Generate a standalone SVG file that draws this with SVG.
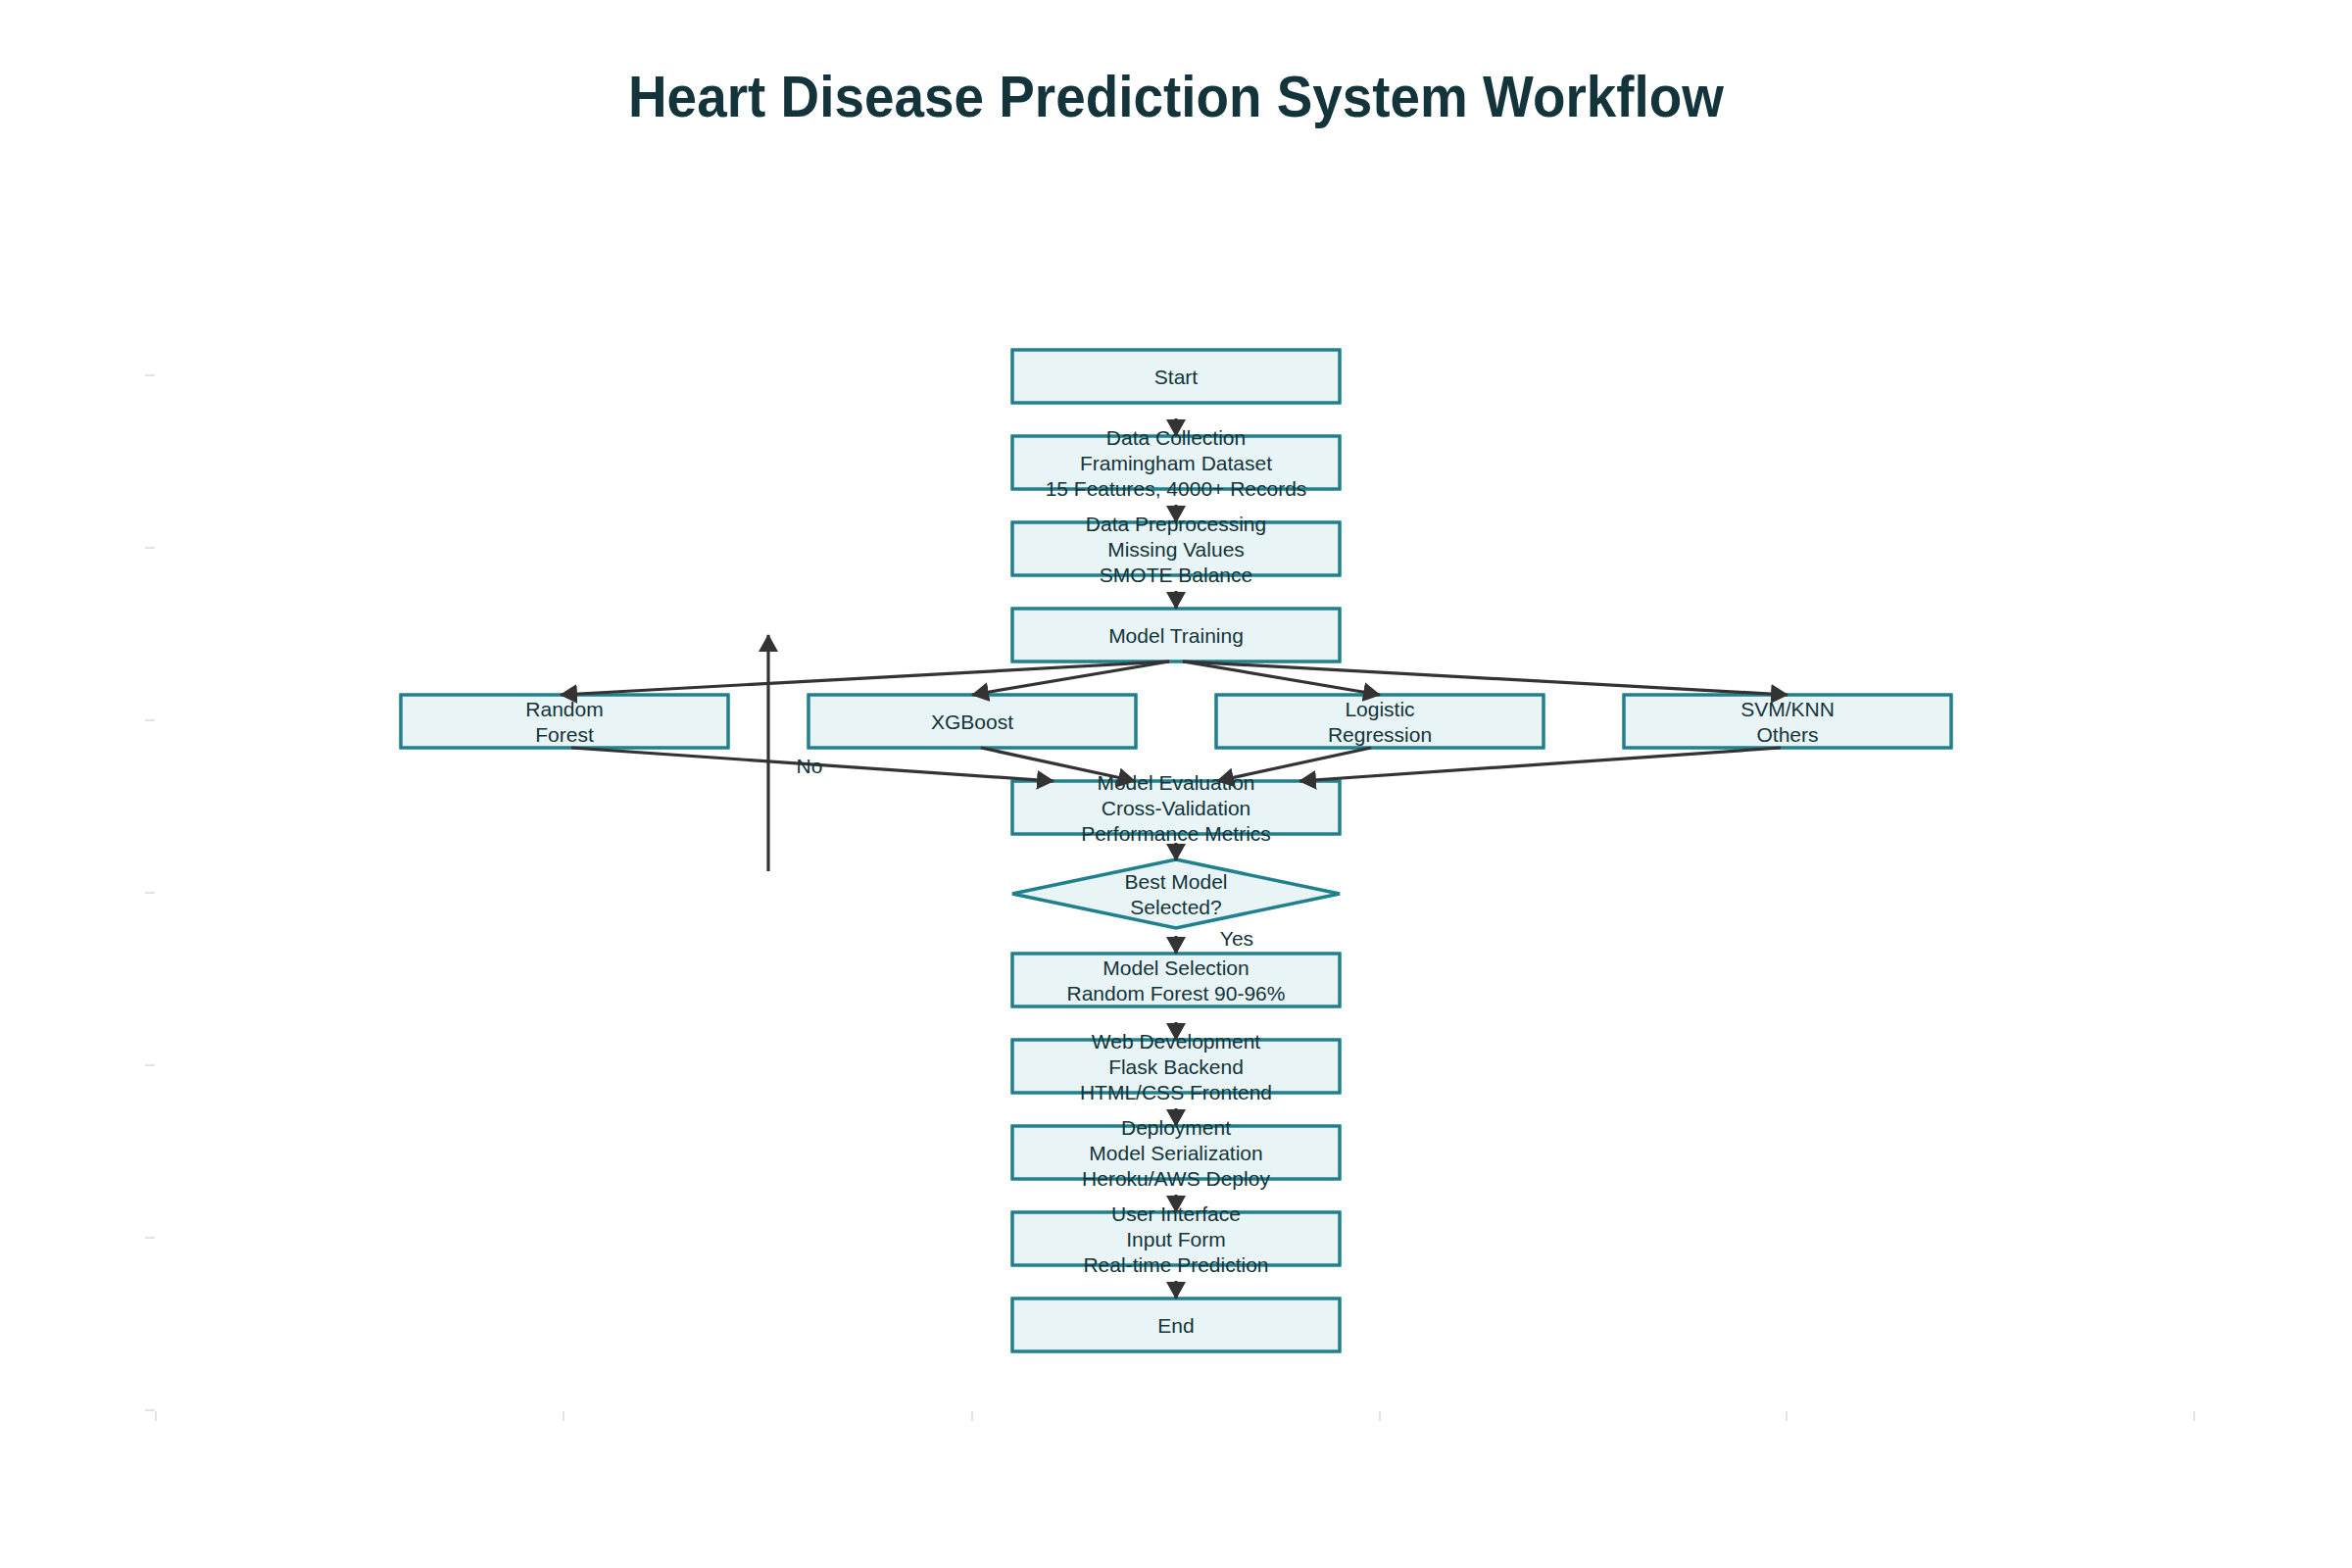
<svg xmlns="http://www.w3.org/2000/svg" width="2400" height="1600" viewBox="0 0 2400 1600">
<defs>
<style>
.box{fill:#E8F4F5;stroke:#21808D;stroke-width:3.5}
.lbl{font-family:"Liberation Sans",Arial,sans-serif;font-size:21px;fill:#13343B;text-anchor:middle}
.title{font-family:"Liberation Sans",Arial,sans-serif;font-size:60px;font-weight:bold;fill:#13343B;text-anchor:middle}
.edge{stroke:#333333;stroke-width:3.2;fill:none}
.tick{stroke:#DADADA;stroke-width:1.5}
</style>
<marker id="ah" markerUnits="userSpaceOnUse" markerWidth="18" markerHeight="20" viewBox="0 0 18 20" refX="17" refY="10" orient="auto">
<path d="M0,0 L18,10 L0,20 z" fill="#333333"/>
</marker>
</defs>
<rect width="2400" height="1600" fill="#FFFFFF"/>
<text class="title" x="1200" y="119" textLength="1118" lengthAdjust="spacingAndGlyphs">Heart Disease Prediction System Workflow</text>

<g id="axes">
<line class="tick" x1="148" y1="383" x2="158" y2="383"/>
<line class="tick" x1="148" y1="559" x2="158" y2="559"/>
<line class="tick" x1="148" y1="735" x2="158" y2="735"/>
<line class="tick" x1="148" y1="911" x2="158" y2="911"/>
<line class="tick" x1="148" y1="1087" x2="158" y2="1087"/>
<line class="tick" x1="148" y1="1263" x2="158" y2="1263"/>
<line class="tick" x1="148" y1="1439" x2="158" y2="1439"/>
<line class="tick" x1="159" y1="1440" x2="159" y2="1450"/>
<line class="tick" x1="575" y1="1440" x2="575" y2="1450"/>
<line class="tick" x1="992" y1="1440" x2="992" y2="1450"/>
<line class="tick" x1="1408" y1="1440" x2="1408" y2="1450"/>
<line class="tick" x1="1823" y1="1440" x2="1823" y2="1450"/>
<line class="tick" x1="2239" y1="1440" x2="2239" y2="1450"/>
</g>

<g id="start"><rect class="box" x="1033" y="357" width="334" height="54"/>
<text class="lbl" x="1200" y="391.5">Start</text></g>

<g id="collection"><rect class="box" x="1033" y="445" width="334" height="54"/>
<text class="lbl"><tspan x="1200" y="453.5">Data Collection</tspan><tspan x="1200" y="479.5">Framingham Dataset</tspan><tspan x="1200" y="505.5">15 Features, 4000+ Records</tspan></text></g>

<g id="preprocessing"><rect class="box" x="1033" y="533" width="334" height="54"/>
<text class="lbl"><tspan x="1200" y="541.5">Data Preprocessing</tspan><tspan x="1200" y="567.5">Missing Values</tspan><tspan x="1200" y="593.5">SMOTE Balance</tspan></text></g>

<g id="training"><rect class="box" x="1033" y="621" width="334" height="54"/>
<text class="lbl" x="1200" y="655.5">Model Training</text></g>

<g id="randomforest"><rect class="box" x="409" y="709" width="334" height="54"/>
<text class="lbl"><tspan x="576" y="730.5">Random</tspan><tspan x="576" y="756.5">Forest</tspan></text></g>

<g id="xgboost"><rect class="box" x="825" y="709" width="334" height="54"/>
<text class="lbl" x="992" y="743.5">XGBoost</text></g>

<g id="logistic"><rect class="box" x="1241" y="709" width="334" height="54"/>
<text class="lbl"><tspan x="1408" y="730.5">Logistic</tspan><tspan x="1408" y="756.5">Regression</tspan></text></g>

<g id="svmknn"><rect class="box" x="1657" y="709" width="334" height="54"/>
<text class="lbl"><tspan x="1824" y="730.5">SVM/KNN</tspan><tspan x="1824" y="756.5">Others</tspan></text></g>

<g id="evaluation"><rect class="box" x="1033" y="797" width="334" height="54"/>
<text class="lbl"><tspan x="1200" y="805.5">Model Evaluation</tspan><tspan x="1200" y="831.5">Cross-Validation</tspan><tspan x="1200" y="857.5">Performance Metrics</tspan></text></g>

<g id="decision"><polygon class="box" points="1200,877 1367,912 1200,947 1033,912"/>
<text class="lbl"><tspan x="1200" y="906.5">Best Model</tspan><tspan x="1200" y="932.5">Selected?</tspan></text></g>

<g id="selection"><rect class="box" x="1033" y="973" width="334" height="54"/>
<text class="lbl"><tspan x="1200" y="994.5">Model Selection</tspan><tspan x="1200" y="1020.5">Random Forest 90-96%</tspan></text></g>

<g id="webdev"><rect class="box" x="1033" y="1061" width="334" height="54"/>
<text class="lbl"><tspan x="1200" y="1069.5">Web Development</tspan><tspan x="1200" y="1095.5">Flask Backend</tspan><tspan x="1200" y="1121.5">HTML/CSS Frontend</tspan></text></g>

<g id="deployment"><rect class="box" x="1033" y="1149" width="334" height="54"/>
<text class="lbl"><tspan x="1200" y="1157.5">Deployment</tspan><tspan x="1200" y="1183.5">Model Serialization</tspan><tspan x="1200" y="1209.5">Heroku/AWS Deploy</tspan></text></g>

<g id="userinterface"><rect class="box" x="1033" y="1237" width="334" height="54"/>
<text class="lbl"><tspan x="1200" y="1245.5">User Interface</tspan><tspan x="1200" y="1271.5">Input Form</tspan><tspan x="1200" y="1297.5">Real-time Prediction</tspan></text></g>

<g id="end"><rect class="box" x="1033" y="1325" width="334" height="54"/>
<text class="lbl" x="1200" y="1359.5">End</text></g>

<g id="connectors">
<line class="edge" x1="1200" y1="427" x2="1200" y2="445" marker-end="url(#ah)"/>
<line class="edge" x1="1200" y1="515" x2="1200" y2="533" marker-end="url(#ah)"/>
<line class="edge" x1="1200" y1="603" x2="1200" y2="621" marker-end="url(#ah)"/>
<line class="edge" x1="1193" y1="675" x2="572" y2="709" marker-end="url(#ah)"/>
<line class="edge" x1="1193" y1="675" x2="992" y2="709" marker-end="url(#ah)"/>
<line class="edge" x1="1207" y1="675" x2="1408" y2="709" marker-end="url(#ah)"/>
<line class="edge" x1="1207" y1="675" x2="1824" y2="709" marker-end="url(#ah)"/>
<line class="edge" x1="583" y1="763" x2="1075" y2="797" marker-end="url(#ah)"/>
<line class="edge" x1="1001" y1="763" x2="1158" y2="797" marker-end="url(#ah)"/>
<line class="edge" x1="1399" y1="763" x2="1242" y2="797" marker-end="url(#ah)"/>
<line class="edge" x1="1817" y1="763" x2="1326" y2="797" marker-end="url(#ah)"/>
<line class="edge" x1="1200" y1="860" x2="1200" y2="878" marker-end="url(#ah)"/>
<line class="edge" x1="1200" y1="955" x2="1200" y2="973" marker-end="url(#ah)"/>
<line class="edge" x1="1200" y1="1043" x2="1200" y2="1061" marker-end="url(#ah)"/>
<line class="edge" x1="1200" y1="1131" x2="1200" y2="1149" marker-end="url(#ah)"/>
<line class="edge" x1="1200" y1="1219" x2="1200" y2="1237" marker-end="url(#ah)"/>
<line class="edge" x1="1200" y1="1307" x2="1200" y2="1325" marker-end="url(#ah)"/>
<line class="edge" x1="784" y1="889" x2="784" y2="648" marker-end="url(#ah)"/>
<text class="lbl" x="826" y="788.5">No</text>
<text class="lbl" x="1262" y="964.5">Yes</text>
</g>
</svg>
